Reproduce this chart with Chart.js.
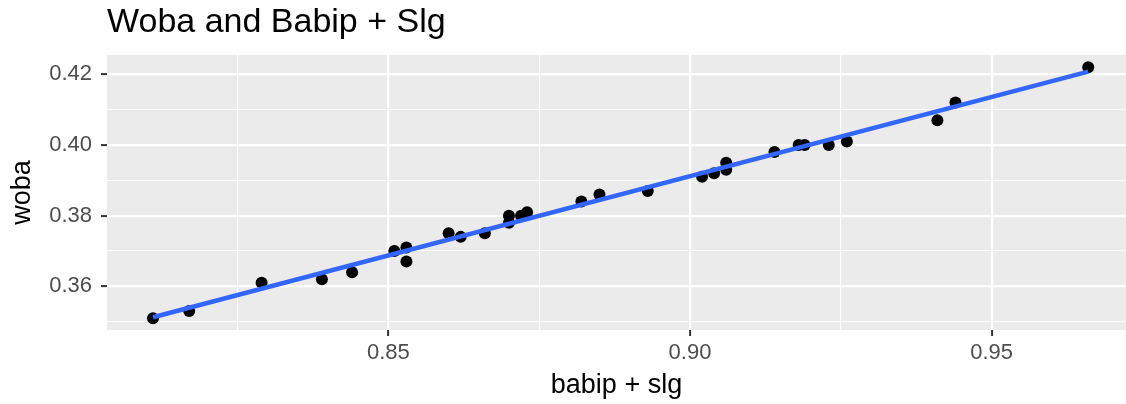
<!DOCTYPE html>
<html>
<head>
<meta charset="utf-8">
<script src="https://cdn.jsdelivr.net/npm/chart.js@4"></script>
<style>
  html, body { margin: 0; padding: 0; background: #fff; overflow: hidden; }
  #wrap { width: 1126px; height: 404px; }
</style>
</head>
<body>
<div id="wrap"><canvas id="chart"></canvas></div>
<script>
const babipSlg = [0.811, 0.817, 0.829, 0.839, 0.844, 0.851, 0.853, 0.853, 0.860, 0.862,
                  0.866, 0.870, 0.870, 0.872, 0.873, 0.882, 0.885, 0.893, 0.902, 0.904,
                  0.906, 0.906, 0.914, 0.918, 0.919, 0.923, 0.926, 0.941, 0.944, 0.966];
const woba = [0.351, 0.353, 0.361, 0.362, 0.364, 0.370, 0.371, 0.367, 0.375, 0.374,
              0.375, 0.380, 0.378, 0.380, 0.381, 0.384, 0.386, 0.387, 0.391, 0.392,
              0.393, 0.395, 0.398, 0.400, 0.400, 0.400, 0.401, 0.407, 0.412, 0.422];
const xMajor = [0.85, 0.90, 0.95];
const xMinor = [0.825, 0.875, 0.925];
const yMajor = [0.36, 0.38, 0.40, 0.42];
const yMinor = [0.35, 0.37, 0.39, 0.41];

const FONT = "'Liberation Sans', Arial, Helvetica, sans-serif";

// least squares fit, like geom_smooth(method = "lm")
function fitLine(xs, ys) {
    const n = xs.length;
    const mx = xs.reduce((a, b) => a + b, 0) / n;
    const my = ys.reduce((a, b) => a + b, 0) / n;
    let sxy = 0, sxx = 0;
    for (let i = 0; i < n; i++) {
        sxy += (xs[i] - mx) * (ys[i] - my);
        sxx += (xs[i] - mx) * (xs[i] - mx);
    }
    const slope = sxy / sxx;
    return { slope: slope, icept: my - slope * mx };
}
const fit = fitLine(babipSlg, woba);
const xLo = Math.min(...babipSlg);
const xHi = Math.max(...babipSlg);

const isMajor = (list, v) => list.some(m => Math.abs(m - v) < 1e-9);

const panelBg = {
    id: 'panelBg',
    beforeDraw(chart) {
        const { ctx, chartArea: a } = chart;
        ctx.save();
        ctx.fillStyle = '#EBEBEB';
        ctx.fillRect(a.left, a.top, a.right - a.left, a.bottom - a.top);
        ctx.restore();
    },
};

const plotTitle = {
    id: 'plotTitle',
    afterDraw(chart) {
        const { ctx, chartArea: a } = chart;
        ctx.save();
        ctx.fillStyle = '#000';
        ctx.font = '34px ' + FONT;
        ctx.textBaseline = 'alphabetic';
        ctx.textAlign = 'left';
        ctx.fillText('Woba and Babip + Slg', a.left, 32);
        ctx.restore();
    },
};

function axisGrid(major) {
    return {
        color: '#FFFFFF',
        lineWidth: ctx => isMajor(major, ctx.tick.value) ? 2.2 : 1.1,
        tickColor: ctx => isMajor(major, ctx.tick.value) ? '#333333' : 'rgba(0,0,0,0)',
        tickWidth: ctx => isMajor(major, ctx.tick.value) ? 2 : 0,
        tickLength: 6,
    };
}

new Chart(document.getElementById('chart'), {
    data: {
        datasets: [
            {
                type: 'line',
                data: [
                    { x: xLo, y: fit.icept + fit.slope * xLo },
                    { x: xHi, y: fit.icept + fit.slope * xHi },
                ],
                borderColor: '#3366FF',
                borderWidth: 4.5,
                pointRadius: 0,
                fill: false,
                order: 0,
            },
            {
                type: 'scatter',
                data: babipSlg.map((x, i) => ({ x: x, y: woba[i] })),
                backgroundColor: '#000000',
                borderWidth: 0,
                pointRadius: 6,
                order: 1,
            },
        ],
    },
    options: {
        responsive: true,
        maintainAspectRatio: false,
        devicePixelRatio: 1,
        animation: false,
        layout: { autoPadding: false, padding: { top: 55, right: 0, bottom: 0, left: 0 } },
        plugins: {
            legend: { display: false },
            tooltip: { enabled: false },
            title: { display: false },
        },
        scales: {
            x: {
                type: 'linear',
                min: 0.80338,
                max: 0.97226,
                afterBuildTicks: s => { s.ticks = [...xMinor, ...xMajor].sort().map(v => ({ value: v })); },
                afterFit: s => { s.height = 74; s.paddingLeft = 0; s.paddingRight = 0; },
                grid: axisGrid(xMajor),
                border: { display: false },
                ticks: {
                    autoSkip: false,
                    maxRotation: 0,
                    padding: 4,
                    color: '#4D4D4D',
                    font: { family: FONT, size: 22 },
                    callback: v => isMajor(xMajor, v) ? v.toFixed(2) : '',
                },
                title: {
                    display: true,
                    text: 'babip + slg',
                    color: '#000',
                    font: { family: FONT, size: 27 },
                    padding: { top: 0, bottom: 2 },
                },
            },
            y: {
                type: 'linear',
                min: 0.34765,
                max: 0.42546,
                afterBuildTicks: s => { s.ticks = [...yMinor, ...yMajor].sort().map(v => ({ value: v })); },
                afterFit: s => { s.width = 107; },
                grid: axisGrid(yMajor),
                border: { display: false },
                ticks: {
                    autoSkip: false,
                    padding: 9,
                    color: '#4D4D4D',
                    font: { family: FONT, size: 22 },
                    callback: v => isMajor(yMajor, v) ? v.toFixed(2) : '',
                },
                title: {
                    display: true,
                    text: 'woba',
                    color: '#000',
                    font: { family: FONT, size: 27 },
                    padding: { top: 6, bottom: 0 },
                },
            },
        },
    },
    plugins: [panelBg, plotTitle],
});
</script>
</body>
</html>
